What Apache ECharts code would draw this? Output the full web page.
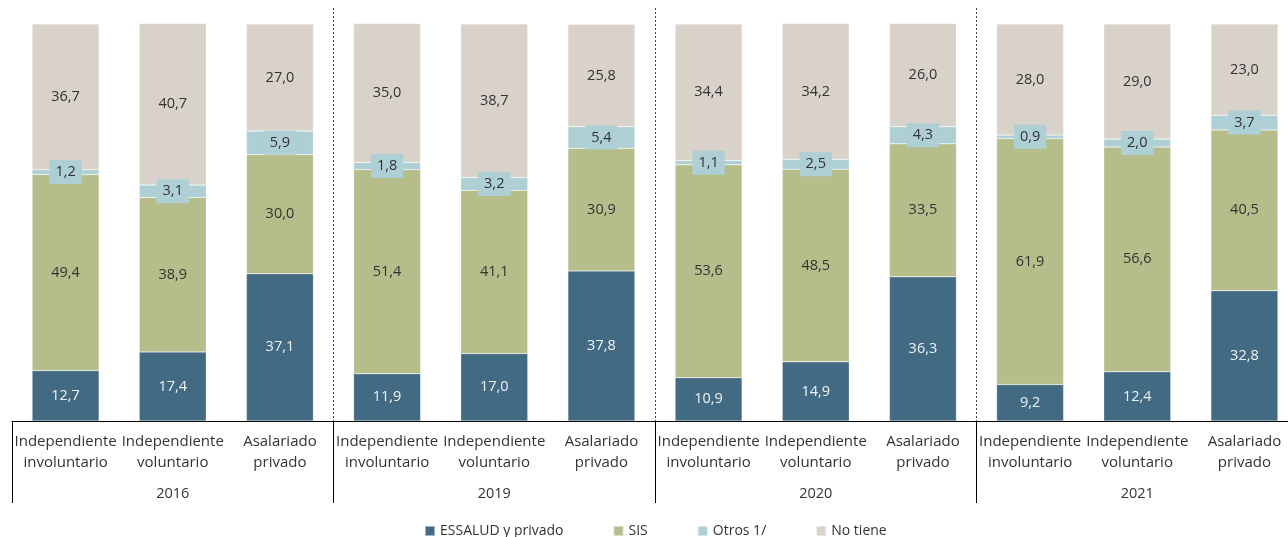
<!DOCTYPE html>
<html>
<head>
<meta charset="utf-8">
<script src="https://cdn.jsdelivr.net/npm/echarts@6/dist/echarts.min.js"></script>
<style>
  html, body { margin: 0; padding: 0; background: #fff; }
  #main { width: 1288px; height: 537px; }
</style>
</head>
<body>
<div id="main"></div>
<script>
// categorias y años
var categorias = [
  'Independiente\ninvoluntario', 'Independiente\nvoluntario', 'Asalariado\nprivado',
  'Independiente\ninvoluntario', 'Independiente\nvoluntario', 'Asalariado\nprivado',
  'Independiente\ninvoluntario', 'Independiente\nvoluntario', 'Asalariado\nprivado',
  'Independiente\ninvoluntario', 'Independiente\nvoluntario', 'Asalariado\nprivado'
];
var anios = ['2016', '2019', '2020', '2021'];

// series (porcentaje)
var essalud = [12.7, 17.4, 37.1, 11.9, 17.0, 37.8, 10.9, 14.9, 36.3, 9.2, 12.4, 32.8];
var sis = [49.4, 38.9, 30.0, 51.4, 41.1, 30.9, 53.6, 48.5, 33.5, 61.9, 56.6, 40.5];
var otros = [1.2, 3.1, 5.9, 1.8, 3.2, 5.4, 1.1, 2.5, 4.3, 0.9, 2.0, 3.7];
var noTiene = [36.7, 40.7, 27.0, 35.0, 38.7, 25.8, 34.4, 34.2, 26.0, 28.0, 29.0, 23.0];

var fuente = '"Open Sans", "Noto Sans", sans-serif';

function coma(p) {
  return p.value.toFixed(1).replace('.', ',');
}

function serie(nombre, datos, color, label) {
  return {
    name: nombre,
    type: 'bar',
    stack: 'total',
    barWidth: 67,
    data: datos,
    itemStyle: { color: color, borderColor: 'rgba(255,255,255,0.5)', borderWidth: 0.5 },
    label: Object.assign({
      show: true,
      position: 'inside',
      formatter: coma,
      fontFamily: fuente,
      fontSize: 14.5,
      color: '#333'
    }, label || {})
  };
}

var myChart = echarts.init(document.getElementById('main'));

var option = {
  animation: false,
  textStyle: { fontFamily: fuente },
  grid: { left: 12, width: 1286, top: 8, bottom: 116, outerBoundsMode: 'none', containLabel: false },
  legend: {
    left: 419,
    top: 519,
    itemWidth: 10,
    itemHeight: 10,
    itemGap: 49,
    icon: 'rect',
    textStyle: { fontFamily: fuente, fontSize: 14, color: '#333' },
    data: ['ESSALUD y privado', 'SIS', 'Otros 1/', 'No tiene']
  },
  xAxis: [
    {
      type: 'category',
      data: categorias,
      axisLine: { lineStyle: { color: '#000', width: 1 } },
      axisTick: { show: false },
      axisLabel: {
        margin: 10,
        interval: 0,
        fontFamily: fuente,
        fontSize: 15,
        lineHeight: 21,
        color: '#333'
      }
    },
    {
      type: 'category',
      position: 'bottom',
      data: anios,
      axisLine: { show: false },
      axisTick: { show: true, length: 82, lineStyle: { color: '#000', width: 1 } },
      axisLabel: {
        margin: 65,
        fontFamily: fuente,
        fontSize: 14.5,
        color: '#333'
      },
      splitLine: {
        show: true,
        showMinLine: false,
        showMaxLine: false,
        lineStyle: { color: '#444', type: [2, 2], width: 1 }
      }
    }
  ],
  yAxis: {
    type: 'value',
    min: 0,
    max: 104,
    show: false,
    splitLine: { show: false }
  },
  series: [
    serie('ESSALUD y privado', essalud, '#436a83', { color: '#eef2f4' }),
    serie('SIS', sis, '#b5be8a'),
    serie('Otros 1/', otros, '#aecfd4', {
      backgroundColor: '#aecfd4',
      padding: [5, 6, 4, 6]
    }),
    serie('No tiene', noTiene, '#d9d2cb')
  ]
};

myChart.setOption(option);
</script>
</body>
</html>
